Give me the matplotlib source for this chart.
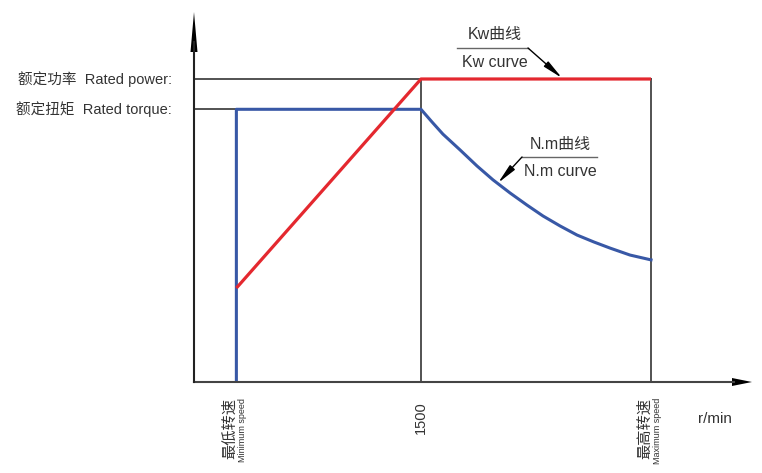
import matplotlib
matplotlib.use("Agg")
import matplotlib.pyplot as plt
from matplotlib.transforms import blended_transform_factory

plt.rcParams['font.family'] = ['Liberation Sans', 'Noto Sans CJK SC', 'DejaVu Sans']

# ---- data (rpm, % of rated power scale) ----
speed_min = 280
speed_rated = 1500
speed_max = 3020
rated_power = 100
rated_torque = 90
power_start = 31

power_rpm = [speed_min, speed_rated, speed_max]
power_val = [power_start, rated_power, rated_power]

torque_rpm = [speed_min, speed_min, 1500, 1573, 1645, 1758, 1870, 1976, 2088, 2200,
              2306, 2419, 2531, 2643, 2749, 2881, 3020]
torque_val = [0, rated_torque, 90, 85.8, 81.8, 76.6, 71.3, 66.7, 62.4, 58.4,
              54.8, 51.5, 48.5, 46.2, 44.2, 41.9, 40.3]

y_labels = ['额定功率  Rated power:', '额定扭矩  Rated torque:']
x_label_min = ('最低转速', 'Minimum speed')
x_label_max = ('最高转速', 'Maximum speed')
x_unit = 'r/min'

# ---- layout ----
W, H = 762, 473
x0, y0 = 194, 382       # origin pixel
xtip, ytip = 752, 12    # arrow tips
fig = plt.figure(figsize=(W / 100, H / 100), dpi=100)
ax = fig.add_axes([x0 / W, (H - y0) / H, (xtip - x0) / W, (y0 - ytip) / H])
rpm_per_px = 1500 / (421 - 194)
pct_per_px = 100 / (382 - 79)
ax.set_xlim(0, (xtip - x0) * rpm_per_px)
ax.set_ylim(0, (y0 - ytip) * pct_per_px)
ax.axis('off')

red = '#e4282f'
blue = '#3858a6'
grey = '#444444'

# reference (box) lines
ax.plot([0, speed_max], [rated_power, rated_power], color=grey, lw=1.3, zorder=1)
ax.plot([0, speed_min], [rated_torque, rated_torque], color=grey, lw=1.3, zorder=1)
ax.plot([speed_rated, speed_rated], [0, rated_power], color=grey, lw=1.3, zorder=1)
ax.plot([speed_max, speed_max], [0, rated_power], color=grey, lw=1.3, zorder=1)

# curves
ax.plot(power_rpm, power_val, color=red, lw=2.3, zorder=3, solid_capstyle='butt')
ax.plot(torque_rpm, torque_val, color=blue, lw=2.2, zorder=2, solid_joinstyle='round')

# axes with arrows (axes-fraction coordinates)
aw, ah = xtip - x0, y0 - ytip
ax.plot([0, 1 - 18 / aw], [0, 0], transform=ax.transAxes, color=grey, lw=1.5, clip_on=False)
ax.plot([0, 0], [0, 1 - 30 / ah], transform=ax.transAxes, color='#222222', lw=1.5, clip_on=False)
ax.fill([1, 1 - 20 / aw, 1 - 20 / aw], [0, 4 / ah, -4 / ah], transform=ax.transAxes,
        color='black', clip_on=False, lw=0)
ax.fill([0, -3.5 / aw, 3.5 / aw], [1, 1 - 40 / ah, 1 - 40 / ah], transform=ax.transAxes,
        color='black', clip_on=False, lw=0)

# y labels
for lab, val in zip(y_labels, [rated_power, rated_torque]):
    ax.text(-22 * rpm_per_px, val, lab, ha='right', va='center', fontsize=10.5, color='#333333')

# x labels
bt = blended_transform_factory(ax.transData, ax.transAxes)
def speed_label(xv, cn, en):
    ax.text(xv - 6 * rpm_per_px, -16 / ah, cn, rotation=90, ha='center', va='top',
            fontsize=11, color='#333333', transform=bt)
    ax.text(xv + 6 * rpm_per_px, -16 / ah, en, rotation=90, ha='center', va='top',
            fontsize=6.5, color='#333333', transform=bt)
speed_label(speed_min, *x_label_min)
speed_label(speed_max, *x_label_max)
ax.text(speed_rated, -19 / ah, str(speed_rated), rotation=90, ha='center', va='top',
        fontsize=10.5, color='#333333', transform=bt)
ax.text(1 - 37 / aw, -37 / ah, x_unit, ha='center', va='center', fontsize=11,
        color='#333333', transform=ax.transAxes)

# curve annotations
def curve_note(xl, xr, yline, tip, top, bottom, xc):
    ax.plot([xl, xr], [yline, yline], color='#666666', lw=1.0, clip_on=False)
    corner = (xr, yline) if tip[0] > xr else (xl, yline)
    ax.annotate('', xy=tip, xytext=corner,
                arrowprops=dict(arrowstyle='-|>,head_length=1.2,head_width=0.2',
                                color='black', lw=1.0, shrinkA=0, shrinkB=0,
                                mutation_scale=10))
    ax.text(xc, yline + 13 * pct_per_px, top, ha='center', va='center', fontsize=11.5, color='#333333')
    ax.text(xc, yline - 14 * pct_per_px, bottom, ha='center', va='center', fontsize=11.5, color='#333333')

curve_note((457 - x0) * rpm_per_px, (528 - x0) * rpm_per_px, (y0 - 48) * pct_per_px,
           ((562 - x0) * rpm_per_px, (y0 - 78) * pct_per_px), 'Kw曲线', 'Kw curve',
           (495 - x0) * rpm_per_px)
curve_note((522 - x0) * rpm_per_px, (597 - x0) * rpm_per_px, (y0 - 157) * pct_per_px,
           ((498 - x0) * rpm_per_px, (y0 - 183) * pct_per_px), 'N.m曲线', 'N.m curve',
           (560 - x0) * rpm_per_px)

fig.savefig('out.png', dpi=100)
